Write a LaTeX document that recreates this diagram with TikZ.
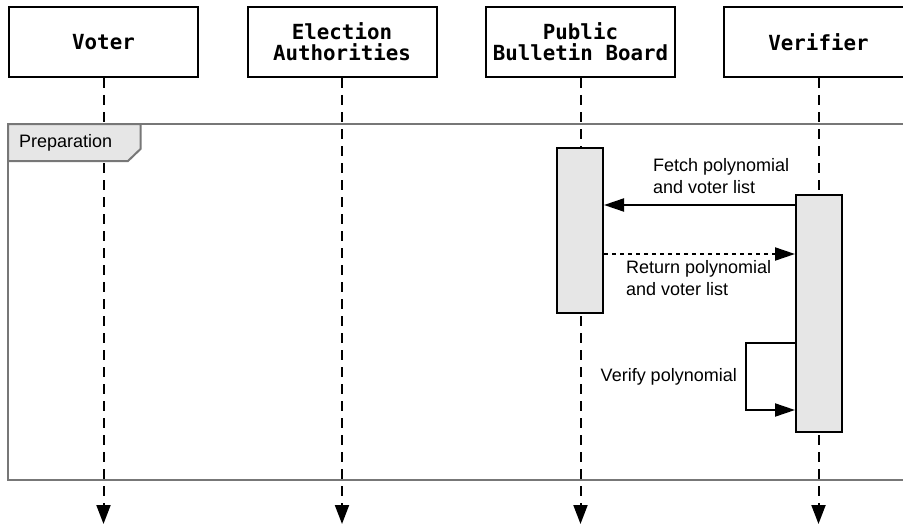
\documentclass[tikz,border=0pt]{standalone}
\usepackage{fontspec}
\setmainfont{Liberation Sans}
\newfontfamily\monohead{DejaVu Sans Mono}
\usetikzlibrary{arrows.meta}
\definecolor{actfill}{HTML}{E6E6E6}
\definecolor{framegray}{HTML}{777777}

\begin{document}
\begin{tikzpicture}[x=1pt,y=-1pt,
  actor/.style={draw=black, line width=2pt, fill=white, minimum width=189pt,
    minimum height=70pt, align=center, inner sep=0pt,
    font=\monohead\bfseries\fontsize{20.8}{21}\selectfont},
  lifeline/.style={line width=2pt, dash pattern=on 10pt off 7pt,
    -{Triangle[length=19pt,width=14pt]}},
  activation/.style={draw=black, line width=2pt, fill=actfill, minimum width=46pt, inner sep=0pt},
  msg/.style={line width=2pt, -{Triangle[length=20pt,width=13pt]}},
  reply/.style={msg, dash pattern=on 4pt off 4pt},
  lbl/.style={font=\fontsize{18}{22}\selectfont, align=left, inner sep=0pt},
  framebox/.style={draw=framegray, line width=2pt},
]
\useasboundingbox (0,0) rectangle (903,527);
\clip (0,0) rectangle (903,527);

% participants
\node[actor] (voter) at (103.5,42) {Voter};
\node[actor] (auth)  at (342,42)   {Election\\Authorities};
\node[actor] (pbb)   at (580.5,42) {Public\\Bulletin Board};
\node[actor] (ver)   at (818.5,42) {Verifier};

% y-levels of the lifeline ends and the messages
\coordinate (lifeend) at (0,524);
\coordinate (fetchy)  at (0,205);
\coordinate (returny) at (0,254);
\coordinate (looptop) at (0,343);
\coordinate (loopbot) at (0,410);
\coordinate (loopleft) at (746,0);

% combined fragment frame
\draw[framebox] (8,124) rectangle (930,480);

% lifelines
\foreach \p in {voter,auth,pbb,ver}
  \draw[lifeline] (\p.south) -- (\p.south |- lifeend);

% fragment label tab
\draw[framebox, fill=actfill] (8,124) -- (140.5,124) -- (140.5,149) -- (128,161) -- (8,161) -- cycle;
\node[lbl, anchor=base west] (preplbl) at (19,147) {Preparation};

% activation bars
\node[activation, minimum height=165pt] (pbbact) at (580,230.5) {};
\node[activation, minimum height=237pt] (veract) at (819,313.5) {};

% messages (label anchors sit on the baseline of the last line)
\draw[msg] (veract.west |- fetchy) -- (pbbact.east |- fetchy);
\node[lbl, anchor=base west] (fetchlbl) at (653,193) {Fetch polynomial\\and voter list};

\draw[reply] (pbbact.east |- returny) -- (veract.west |- returny);
\node[lbl, anchor=base west] (returnlbl) at (626,295) {Return polynomial\\and voter list};

\draw[msg] (veract.west |- looptop) -- (loopleft |- looptop)
  -- (loopleft |- loopbot) -- (veract.west |- loopbot);
\node[lbl, anchor=base east] (verifylbl) at (737,381) {Verify polynomial};
\end{tikzpicture}
\end{document}
